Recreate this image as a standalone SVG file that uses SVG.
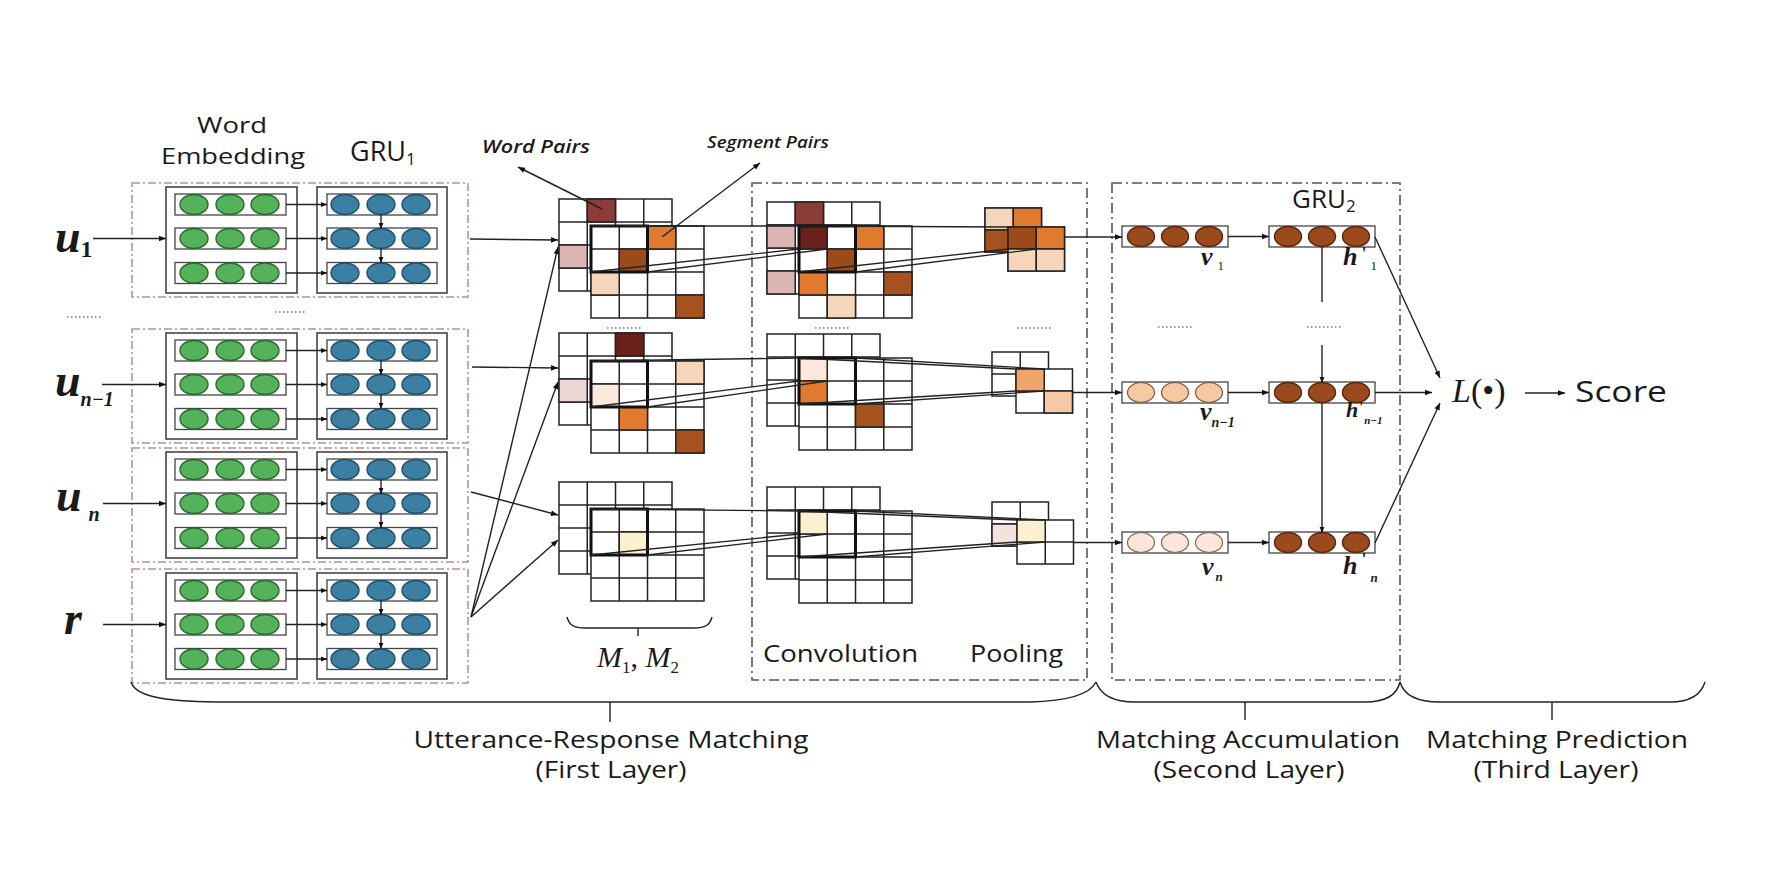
<svg xmlns="http://www.w3.org/2000/svg" xmlns:xlink="http://www.w3.org/1999/xlink" width="1776" height="892" viewBox="0 0 1776 892">
<style>
.sans{font-family:"Open Sans","Noto Sans",sans-serif;fill:#1a1a1a}
.math{font-family:"Liberation Serif","Times New Roman",serif;fill:#1a1a1a}
.dashr{fill:none;stroke:#b89090;stroke-width:1.6;stroke-dasharray:8 3 2 3}
.dashk{fill:none;stroke:#555;stroke-width:1.6;stroke-dasharray:10 4 2 4}
.box{fill:#fff;stroke:#444;stroke-width:1.6}
.row{fill:#fff;stroke:#444;stroke-width:1.3}
.gc{fill:#54b35a;stroke:#2d6a30;stroke-width:1.4}
.bc{fill:#3b7fa2;stroke:#22506a;stroke-width:1.4}
.brc{fill:#9b4a1d;stroke:#5a2a10;stroke-width:1.4}
.lpc{fill:#f6c9a3;stroke:#7a5a45;stroke-width:1.2}
.vlc{fill:#fbe6da;stroke:#7a6a60;stroke-width:1.2}
.ln{fill:none;stroke:#222;stroke-width:1.4}
.pj{fill:none;stroke:#222;stroke-width:1.3}
.c{stroke:#222;stroke-width:1.5}
.thick{fill:none;stroke:#111;stroke-width:3}
.dots{stroke:#777;stroke-width:1.6;stroke-dasharray:1.5 2.5}
.dr{fill:#8c3b38}.mr{fill:#6a211c}.pk{fill:#dcb5b5}.lpk{fill:#edd6d6}
.or{fill:#e07a2e}.br{fill:#9c4a1a}.br2{fill:#a5521f}.pc{fill:#f6d6bb}
.lpc2{fill:#fbe7db}.yl{fill:#fbf0d0}.ol{fill:#f0a66b}.pc2{fill:#f5c9a5}.vp{fill:#f4e3dc}
</style>
<defs>
<marker id="ah" viewBox="0 0 10 10" refX="10" refY="5" markerWidth="8" markerHeight="7" markerUnits="userSpaceOnUse" orient="auto"><path d="M0,1 L10,5 L0,9 z" fill="#111"/></marker>
<marker id="ahs" viewBox="0 0 10 10" refX="10" refY="5" markerWidth="6" markerHeight="6" markerUnits="userSpaceOnUse" orient="auto"><path d="M0,1 L10,5 L0,9 z" fill="#111"/></marker>
<g id="g4">
<rect x="0" y="0" width="113" height="92" fill="#fff"/>
<path d="M0,0H113V92H0Z M28.25,0V92 M56.5,0V92 M84.75,0V92 M0,23H113 M0,46H113 M0,69H113" fill="none" stroke="#222" stroke-width="1.5"/>
</g>
<g id="g2">
<rect x="0" y="0" width="56.5" height="44" fill="#fff"/>
<path d="M0,0H56.5V44H0Z M28.25,0V44 M0,22H56.5" fill="none" stroke="#222" stroke-width="1.5"/>
</g>
<g id="rowG">
<rect class="row" x="175" y="-10.5" width="111" height="21"/>
<ellipse class="gc" cx="194" cy="0" rx="14" ry="10"/>
<ellipse class="gc" cx="230" cy="0" rx="14" ry="10"/>
<ellipse class="gc" cx="265" cy="0" rx="14" ry="10"/>
<rect class="row" x="327" y="-10.5" width="110" height="21"/>
<ellipse class="bc" cx="345" cy="0" rx="14" ry="10"/>
<ellipse class="bc" cx="381" cy="0" rx="14" ry="10"/>
<ellipse class="bc" cx="416" cy="0" rx="14" ry="10"/>
<line class="ln" x1="286" y1="0" x2="327" y2="0" marker-end="url(#ahs)"/>
</g>
<g id="embBlock">
<rect class="dashr" x="132" y="-4" width="336" height="114"/>
<rect class="box" x="166" y="0" width="131" height="106"/>
<rect class="box" x="317" y="0" width="130" height="106"/>
<use xlink:href="#rowG" y="17.5"/>
<use xlink:href="#rowG" y="51.5"/>
<use xlink:href="#rowG" y="86"/>
<line class="ln" x1="381" y1="27.5" x2="381" y2="42" marker-end="url(#ahs)"/>
<line class="ln" x1="381" y1="61.5" x2="381" y2="76" marker-end="url(#ahs)"/>
</g>
</defs>
<rect width="1776" height="892" fill="#fff"/>

<!-- headers -->
<g id="headers">
<text class="sans" font-size="22" text-anchor="middle"><tspan x="232" y="133" textLength="70" lengthAdjust="spacingAndGlyphs">Word</tspan><tspan x="233" y="164" textLength="144" lengthAdjust="spacingAndGlyphs">Embedding</tspan></text>
<text class="sans" x="350" y="161" font-size="27">GRU<tspan font-size="17" dy="4">1</tspan></text>
</g>

<!-- input blocks -->
<g id="block-u1"><use xlink:href="#embBlock" y="187"/></g>
<g id="block-un1"><use xlink:href="#embBlock" y="333"/></g>
<g id="block-un"><use xlink:href="#embBlock" y="452"/></g>
<g id="block-r"><use xlink:href="#embBlock" y="573"/></g>

<g id="input-labels">
<text class="math" x="55" y="252" font-size="46" font-weight="bold" font-style="italic">u<tspan font-size="24" font-style="normal" dy="5">1</tspan></text>
<text class="math" x="55" y="396" font-size="46" font-weight="bold" font-style="italic">u<tspan font-size="20" dy="10">n−1</tspan></text>
<text class="math" x="56" y="511" font-size="46" font-weight="bold" font-style="italic">u<tspan font-size="20" dx="7" dy="10">n</tspan></text>
<text class="math" x="64" y="634" font-size="46" font-weight="bold" font-style="italic">r</text>
</g>

<!-- matrices M1,M2 -->
<g id="matrix-1">
<use xlink:href="#g4" x="559" y="199"/>
<rect class="c dr" x="587.25" y="199" width="28.25" height="23"/>
<rect class="c pk" x="559" y="245" width="28.25" height="23"/>
<use xlink:href="#g4" x="591" y="226"/>
<rect class="c or" x="647.5" y="226" width="28.25" height="23"/>
<rect class="c br" x="619.25" y="249" width="28.25" height="23"/>
<rect class="c pc" x="591" y="272" width="28.25" height="23"/>
<rect class="c br2" x="675.75" y="295" width="28.25" height="23"/>
<rect class="thick" x="591" y="226" width="56.5" height="46"/>
</g>
<g id="matrix-2">
<use xlink:href="#g4" x="559" y="333"/>
<rect class="c mr" x="615.5" y="333" width="28.25" height="23"/>
<rect class="c lpk" x="559" y="379" width="28.25" height="23"/>
<use xlink:href="#g4" x="591" y="361"/>
<rect class="c pc" x="675.75" y="361" width="28.25" height="23"/>
<rect class="c lpc2" x="591" y="384" width="28.25" height="23"/>
<rect class="c or" x="619.25" y="407" width="28.25" height="23"/>
<rect class="c br2" x="675.75" y="430" width="28.25" height="23"/>
<rect class="thick" x="591" y="361" width="56.5" height="46"/>
</g>
<g id="matrix-3">
<use xlink:href="#g4" x="559" y="482"/>
<use xlink:href="#g4" x="591" y="509"/>
<rect class="c yl" x="619.25" y="532" width="28.25" height="23"/>
<rect class="thick" x="591" y="509" width="56.5" height="46"/>
</g>
<g id="m-label">
<path class="ln" d="M567,617 C569,625 574,628 585,628 L694,628 C705,628 710,625 712,617 M638,628 V636"/>
<text class="math" x="597" y="667" font-size="30" font-style="italic">M<tspan font-size="17" font-style="normal" dy="6">1</tspan><tspan font-style="normal" dy="-6">, </tspan>M<tspan font-size="17" font-style="normal" dy="6">2</tspan></text>
</g>
<g id="pair-labels">
<text class="sans" x="482" y="153" font-size="18" font-style="italic" font-weight="600" textLength="108" lengthAdjust="spacingAndGlyphs">Word Pairs</text>
<text class="sans" x="707" y="148" font-size="16" font-style="italic" font-weight="600" textLength="122" lengthAdjust="spacingAndGlyphs">Segment Pairs</text>
</g>

<!-- convolution & pooling -->
<g id="conv-pool-box">
<rect class="dashk" x="752" y="183" width="335" height="497"/>
<text class="sans" x="763" y="662" font-size="24" textLength="155" lengthAdjust="spacingAndGlyphs">Convolution</text>
<text class="sans" x="970" y="662" font-size="24" textLength="93" lengthAdjust="spacingAndGlyphs">Pooling</text>
</g>
<g id="conv-1">
<use xlink:href="#g4" x="767" y="202"/>
<rect class="c dr" x="795.25" y="202" width="28.25" height="23"/>
<rect class="c pk" x="767" y="225" width="28.25" height="23"/>
<rect class="c pk" x="767" y="271" width="28.25" height="23"/>
<use xlink:href="#g4" x="799" y="226"/>
<rect class="c mr" x="799" y="226" width="28.25" height="23"/>
<rect class="c or" x="855.5" y="226" width="28.25" height="23"/>
<rect class="c br" x="827.25" y="249" width="28.25" height="23"/>
<rect class="c or" x="799" y="272" width="28.25" height="23"/>
<rect class="c br2" x="883.75" y="272" width="28.25" height="23"/>
<rect class="c pc" x="827.25" y="295" width="28.25" height="23"/>
<rect class="thick" x="799" y="226" width="56.5" height="46"/>
</g>
<g id="conv-2">
<use xlink:href="#g4" x="767" y="334"/>
<use xlink:href="#g4" x="799" y="358"/>
<rect class="c lpc2" x="799" y="358" width="28.25" height="23"/>
<rect class="c or" x="799" y="381" width="28.25" height="23"/>
<rect class="c br2" x="855.5" y="404" width="28.25" height="23"/>
<rect class="thick" x="799" y="358" width="56.5" height="46"/>
</g>
<g id="conv-3">
<use xlink:href="#g4" x="767" y="487"/>
<use xlink:href="#g4" x="799" y="511"/>
<rect class="c yl" x="799" y="511" width="28.25" height="23"/>
<rect class="thick" x="799" y="511" width="56.5" height="46"/>
</g>
<g id="pool-1">
<use xlink:href="#g2" x="985" y="208"/>
<rect class="c pc" x="985" y="208" width="28.25" height="22"/>
<rect class="c or" x="1013.25" y="208" width="28.25" height="22"/>
<rect class="c br2" x="985" y="230" width="28.25" height="22"/>
<use xlink:href="#g2" x="1008" y="227"/>
<rect class="c br" x="1008" y="227" width="28.25" height="22"/>
<rect class="c or" x="1036.25" y="227" width="28.25" height="22"/>
<rect class="c pc" x="1008" y="249" width="28.25" height="22"/>
<rect class="c pc" x="1036.25" y="249" width="28.25" height="22"/>
</g>
<g id="pool-2">
<use xlink:href="#g2" x="992" y="352"/>
<use xlink:href="#g2" x="1016" y="369"/>
<rect class="c ol" x="1016" y="369" width="28.25" height="22"/>
<rect class="c pc2" x="1044.25" y="391" width="28.25" height="22"/>
</g>
<g id="pool-3">
<use xlink:href="#g2" x="992" y="502"/>
<rect class="c vp" x="992" y="524" width="28.25" height="22"/>
<use xlink:href="#g2" x="1017" y="520"/>
<rect class="c yl" x="1017" y="520" width="28.25" height="22"/>
</g>

<!-- matching accumulation -->
<g id="accum-box">
<rect class="dashk" x="1112" y="183" width="288" height="497"/>
<text class="sans" x="1292" y="208" font-size="26">GRU<tspan font-size="17" dy="4">2</tspan></text>
</g>
<g id="v1">
<rect class="row" x="1122" y="226" width="106" height="21"/>
<ellipse class="brc" cx="1141" cy="236.5" rx="13.5" ry="10"/>
<ellipse class="brc" cx="1175" cy="236.5" rx="13.5" ry="10"/>
<ellipse class="brc" cx="1209" cy="236.5" rx="13.5" ry="10"/>
<text class="math" x="1201" y="265" font-size="26" font-weight="bold" font-style="italic">v<tspan font-size="13" font-weight="normal" font-style="normal" dx="5" dy="5">1</tspan></text>
</g>
<g id="h1">
<rect class="row" x="1269" y="226" width="106" height="21"/>
<ellipse class="brc" cx="1288" cy="236.5" rx="13.5" ry="10"/>
<ellipse class="brc" cx="1322" cy="236.5" rx="13.5" ry="10"/>
<ellipse class="brc" cx="1356" cy="236.5" rx="13.5" ry="10"/>
<text class="math" x="1343" y="265" font-size="26" font-weight="bold" font-style="italic">h<tspan font-size="18" font-style="normal" dx="4" dy="-5">'</tspan><tspan font-size="13" font-weight="normal" font-style="normal" dx="4" dy="10">1</tspan></text>
</g>
<g id="vn1">
<rect class="row" x="1122" y="382" width="106" height="21"/>
<ellipse class="lpc" cx="1141" cy="392.5" rx="13.5" ry="10"/>
<ellipse class="lpc" cx="1175" cy="392.5" rx="13.5" ry="10"/>
<ellipse class="lpc" cx="1209" cy="392.5" rx="13.5" ry="10"/>
<text class="math" x="1200" y="420" font-size="26" font-weight="bold" font-style="italic">v<tspan font-size="14" dy="7">n−1</tspan></text>
</g>
<g id="hn1">
<rect class="row" x="1269" y="382" width="106" height="21"/>
<ellipse class="brc" cx="1288" cy="392.5" rx="13.5" ry="10"/>
<ellipse class="brc" cx="1322" cy="392.5" rx="13.5" ry="10"/>
<ellipse class="brc" cx="1356" cy="392.5" rx="13.5" ry="10"/>
<text class="math" x="1346" y="417" font-size="22" font-weight="bold" font-style="italic">h<tspan font-size="14" font-style="normal" dx="1" dy="-5">'</tspan><tspan font-size="11" dx="1" dy="12">n−1</tspan></text>
</g>
<g id="vn">
<rect class="row" x="1122" y="532" width="106" height="21"/>
<ellipse class="vlc" cx="1141" cy="542.5" rx="13.5" ry="10"/>
<ellipse class="vlc" cx="1175" cy="542.5" rx="13.5" ry="10"/>
<ellipse class="vlc" cx="1209" cy="542.5" rx="13.5" ry="10"/>
<text class="math" x="1202" y="575" font-size="26" font-weight="bold" font-style="italic">v<tspan font-size="13" dx="2" dy="6">n</tspan></text>
</g>
<g id="hn">
<rect class="row" x="1269" y="532" width="106" height="21"/>
<ellipse class="brc" cx="1288" cy="542.5" rx="13.5" ry="10"/>
<ellipse class="brc" cx="1322" cy="542.5" rx="13.5" ry="10"/>
<ellipse class="brc" cx="1356" cy="542.5" rx="13.5" ry="10"/>
<text class="math" x="1343" y="574" font-size="26" font-weight="bold" font-style="italic">h<tspan font-size="18" font-style="normal" dx="4" dy="-8">'</tspan><tspan font-size="13" dx="4" dy="16">n</tspan></text>
</g>

<!-- prediction -->
<g id="prediction">
<text class="math" x="1452" y="402" font-size="34"><tspan font-style="italic">L</tspan>(•)</text>
<text class="sans" x="1575" y="402" font-size="30" textLength="92" lengthAdjust="spacingAndGlyphs">Score</text>
</g>

<!-- ellipsis separators -->
<g id="separators">
<line class="dots" x1="67" y1="317" x2="101" y2="317"/>
<line class="dots" x1="275" y1="312" x2="307" y2="312"/>
<line class="dots" x1="607" y1="328" x2="643" y2="328"/>
<line class="dots" x1="815" y1="328" x2="851" y2="328"/>
<line class="dots" x1="1017" y1="328" x2="1051" y2="328"/>
<line class="dots" x1="1158" y1="327" x2="1194" y2="327"/>
<line class="dots" x1="1307" y1="327" x2="1341" y2="327"/>
</g>

<!-- connectors -->
<g id="connectors">
<line class="ln" x1="93" y1="238.5" x2="166" y2="238.5" marker-end="url(#ah)"/>
<line class="ln" x1="102" y1="384.5" x2="166" y2="384.5" marker-end="url(#ah)"/>
<line class="ln" x1="103" y1="503.5" x2="166" y2="503.5" marker-end="url(#ah)"/>
<line class="ln" x1="103" y1="624.5" x2="166" y2="624.5" marker-end="url(#ah)"/>

<line class="ln" x1="470" y1="239" x2="558" y2="240" marker-end="url(#ah)"/>
<line class="ln" x1="472" y1="367" x2="558" y2="368" marker-end="url(#ah)"/>
<line class="ln" x1="471" y1="492" x2="558" y2="515" marker-end="url(#ah)"/>
<line class="ln" x1="471" y1="617" x2="558" y2="247" marker-end="url(#ah)"/>
<line class="ln" x1="471" y1="617" x2="558" y2="382" marker-end="url(#ah)"/>
<line class="ln" x1="471" y1="617" x2="558" y2="540" marker-end="url(#ah)"/>

<line class="ln" x1="602" y1="209" x2="518" y2="167" marker-end="url(#ah)"/>
<line class="ln" x1="662" y1="237" x2="760" y2="163" marker-end="url(#ah)"/>

<path class="pj" d="M591,226 L799,226 M591,272 L799,249 M647.5,272 L827.25,249"/>
<path class="pj" d="M799,226 L1008,227 M799,272 L1008,249 M855.5,272 L1036.25,249"/>
<path class="pj" d="M591,361 L799,358 M591,407 L799,381 M647.5,407 L827.25,381"/>
<path class="pj" d="M799,358 L1016,369 M855.5,358 L1044.25,369 M799,404 L1016,391 M855.5,404 L1044.25,391"/>
<path class="pj" d="M591,509 L799,511 M591,555 L799,534 M647.5,555 L827.25,534"/>
<path class="pj" d="M799,511 L1017,520 M855.5,511 L1045.25,520 M799,557 L1017,542 M855.5,557 L1045.25,542"/>

<line class="ln" x1="1064.5" y1="237" x2="1122" y2="237" marker-end="url(#ah)"/>
<line class="ln" x1="1072.5" y1="392.5" x2="1122" y2="392.5" marker-end="url(#ah)"/>
<line class="ln" x1="1073.5" y1="542.5" x2="1122" y2="542.5" marker-end="url(#ah)"/>

<line class="ln" x1="1228" y1="236.5" x2="1269" y2="236.5" marker-end="url(#ah)"/>
<line class="ln" x1="1228" y1="392.5" x2="1269" y2="392.5" marker-end="url(#ah)"/>
<line class="ln" x1="1228" y1="542.5" x2="1269" y2="542.5" marker-end="url(#ah)"/>

<line class="ln" x1="1322" y1="247" x2="1322" y2="302"/>
<line class="ln" x1="1322" y1="345" x2="1322" y2="383" marker-end="url(#ahs)"/>
<line class="ln" x1="1322" y1="403" x2="1322" y2="533" marker-end="url(#ahs)"/>

<line class="ln" x1="1375" y1="237" x2="1440" y2="378" marker-end="url(#ah)"/>
<line class="ln" x1="1375" y1="392.5" x2="1432" y2="392.5" marker-end="url(#ah)"/>
<line class="ln" x1="1375" y1="543" x2="1440" y2="403" marker-end="url(#ah)"/>
<line class="ln" x1="1525" y1="393" x2="1565" y2="393" marker-end="url(#ah)"/>
</g>

<!-- layer braces -->
<g id="layer-1">
<path class="ln" d="M131,682 C136,698 170,702 228,702 L1030,702 C1070,701 1090,694 1096,682 M610,702 V722"/>
<text class="sans" font-size="23" text-anchor="middle"><tspan x="611" y="748" textLength="395" lengthAdjust="spacingAndGlyphs">Utterance-Response Matching</tspan><tspan x="611" y="778" textLength="151" lengthAdjust="spacingAndGlyphs">(First Layer)</tspan></text>
</g>
<g id="layer-2">
<path class="ln" d="M1096,682 C1101,696 1115,702 1135,702 L1365,702 C1386,702 1397,695 1400,682 M1245,702 V720"/>
<text class="sans" font-size="23" text-anchor="middle"><tspan x="1248" y="748" textLength="304" lengthAdjust="spacingAndGlyphs">Matching Accumulation</tspan><tspan x="1249" y="778" textLength="191" lengthAdjust="spacingAndGlyphs">(Second Layer)</tspan></text>
</g>
<g id="layer-3">
<path class="ln" d="M1400,682 C1404,696 1418,702 1440,702 L1670,702 C1690,702 1701,695 1705,682 M1552,702 V720"/>
<text class="sans" font-size="23" text-anchor="middle"><tspan x="1557" y="748" textLength="262" lengthAdjust="spacingAndGlyphs">Matching Prediction</tspan><tspan x="1556" y="778" textLength="165" lengthAdjust="spacingAndGlyphs">(Third Layer)</tspan></text>
</g>
</svg>
